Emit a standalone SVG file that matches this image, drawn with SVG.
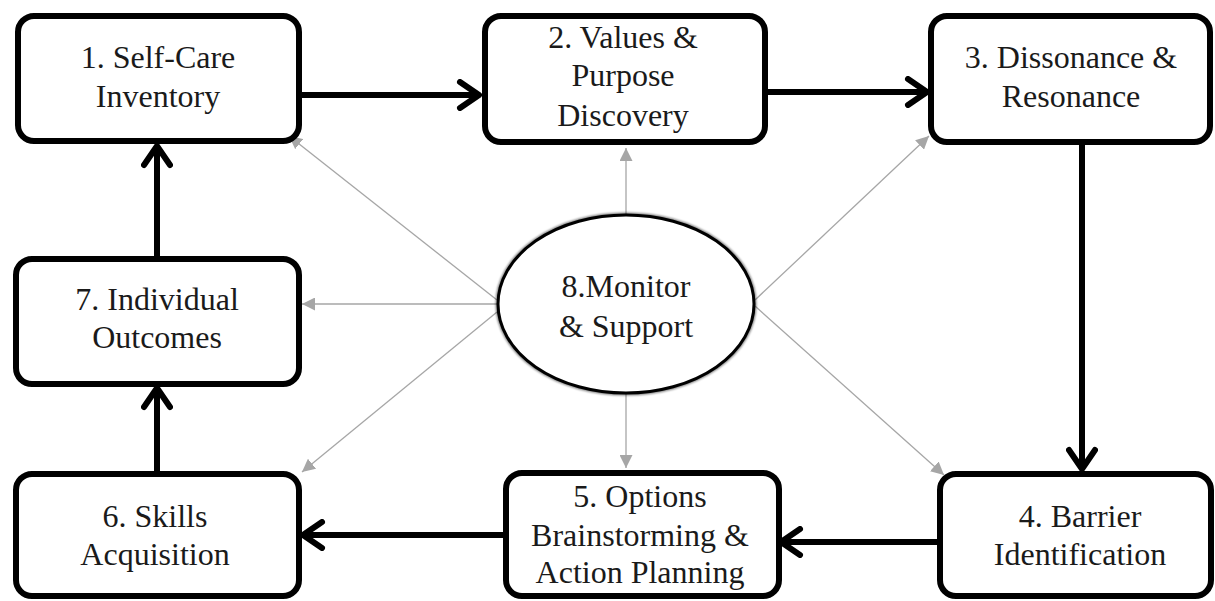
<svg xmlns="http://www.w3.org/2000/svg" width="1215" height="601" viewBox="0 0 1215 601">
<defs>
<style>
.box{fill:#fff;stroke:#000;stroke-width:6}
.thick{stroke:#000;stroke-width:6;fill:none}
.gray{stroke:#a6a6a6;stroke-width:1.3;fill:none}
</style>
<marker id="chev" viewBox="0 0 26 32" refX="23" refY="16" markerWidth="26" markerHeight="32" orient="auto" markerUnits="userSpaceOnUse">
<path d="M4,3 L23,16 L4,29" fill="none" stroke="#000" stroke-width="6" stroke-linecap="round" stroke-linejoin="round"/>
</marker>
<marker id="tri" viewBox="0 0 10 10" refX="10" refY="5" markerWidth="13" markerHeight="13" orient="auto" markerUnits="userSpaceOnUse">
<path d="M0,0 L10,5 L0,10 Z" fill="#a6a6a6"/>
</marker>
<filter id="blur" x="-10%" y="-10%" width="120%" height="120%"><feGaussianBlur stdDeviation="1.2"/></filter>
</defs>
<rect width="1215" height="601" fill="#fff"/>
<g id="connectors">
<line class="thick" x1="302" y1="95" x2="479" y2="95" marker-end="url(#chev)"/>
<line class="thick" x1="755" y1="92" x2="927" y2="92" marker-end="url(#chev)"/>
<line class="thick" x1="1082" y1="145" x2="1082" y2="469" marker-end="url(#chev)"/>
<line class="thick" x1="937" y1="542" x2="781" y2="542" marker-end="url(#chev)"/>
<line class="thick" x1="503" y1="535" x2="303" y2="535" marker-end="url(#chev)"/>
<line class="thick" x1="157" y1="471" x2="157" y2="388" marker-end="url(#chev)"/>
<line class="thick" x1="157" y1="256" x2="157" y2="146" marker-end="url(#chev)"/>
<line class="gray" x1="497" y1="300" x2="289" y2="136" marker-end="url(#tri)"/>
<line class="gray" x1="497" y1="304" x2="302" y2="304" marker-end="url(#tri)"/>
<line class="gray" x1="497" y1="312" x2="302" y2="472" marker-end="url(#tri)"/>
<line class="gray" x1="626" y1="215" x2="626" y2="148" marker-end="url(#tri)"/>
<line class="gray" x1="755" y1="300" x2="929" y2="136" marker-end="url(#tri)"/>
<line class="gray" x1="755" y1="306" x2="944" y2="475" marker-end="url(#tri)"/>
<line class="gray" x1="626" y1="393" x2="626" y2="468" marker-end="url(#tri)"/>
</g>
<g font-family="Liberation Serif, Times New Roman, serif" font-size="32" fill="#1a1a1a" text-anchor="middle">
<g id="n1">
<rect class="box" x="18" y="16" width="281" height="125" rx="16"/>
<text x="158" y="68">1. Self-Care</text>
<text x="158" y="107">Inventory</text>
</g>
<g id="n2">
<rect class="box" x="485" y="16" width="280" height="126" rx="16"/>
<text x="623" y="48">2. Values &amp;</text>
<text x="623" y="86">Purpose</text>
<text x="623" y="126">Discovery</text>
</g>
<g id="n3">
<rect class="box" x="931" y="16" width="279" height="126" rx="16"/>
<text x="1071" y="68">3. Dissonance &amp;</text>
<text x="1071" y="107">Resonance</text>
</g>
<g id="n4">
<rect class="box" x="940" y="474" width="271" height="122" rx="16"/>
<text x="1080" y="527">4. Barrier</text>
<text x="1080" y="565">Identification</text>
</g>
<g id="n5">
<rect class="box" x="506" y="473" width="273" height="123" rx="16"/>
<text x="640" y="507">5. Options</text>
<text x="640" y="546">Brainstorming &amp;</text>
<text x="640" y="583">Action Planning</text>
</g>
<g id="n6">
<rect class="box" x="16" y="474" width="283" height="122" rx="16"/>
<text x="155" y="527">6. Skills</text>
<text x="155" y="565">Acquisition</text>
</g>
<g id="n7">
<rect class="box" x="16" y="259" width="283" height="125" rx="16"/>
<text x="157" y="310">7. Individual</text>
<text x="157" y="348">Outcomes</text>
</g>
<g id="n8">
<ellipse cx="626" cy="304" rx="128" ry="89" fill="none" stroke="#000" stroke-width="5" opacity="0.5" filter="url(#blur)"/>
<ellipse cx="626" cy="304" rx="128" ry="89" fill="#fff" stroke="#000" stroke-width="3"/>
<text x="626" y="297">8.Monitor</text>
<text x="626" y="337">&amp; Support</text>
</g>
</g>
</svg>
